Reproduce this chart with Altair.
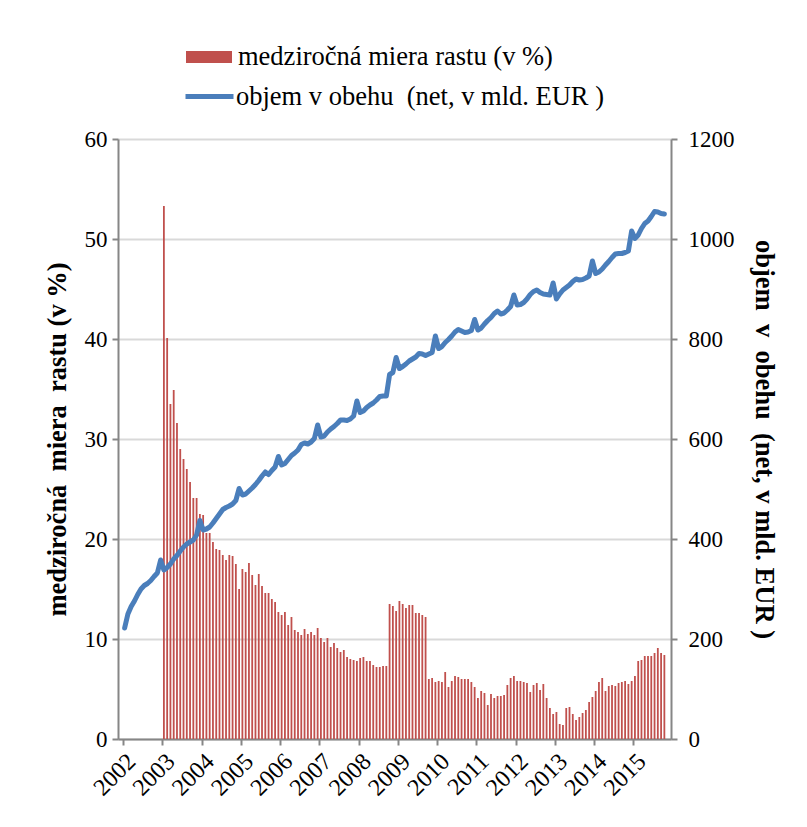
import altair as alt
import pandas as pd

BAR_LABEL = "medziročná miera rastu (v %)"
LINE_LABEL = "objem v obehu\u00a0 (net, v mld. EUR )"
LEFT_TITLE = "medziročná\u00a0 miera\u00a0 rastu (v %)"
RIGHT_TITLE = "objem\u00a0 v\u00a0 obehu\u00a0 (net, v mld. EUR )"

years = list(range(2002, 2016))

# year-on-year growth, monthly from Jan 2003 to Oct 2015 (%)
growth = [
    53.3, 40.1, 33.5, 34.9, 31.6, 29.0, 28.0, 27.0, 25.7, 24.1, 24.1, 22.5,
    22.4, 20.6, 20.6, 19.7, 19.0, 18.9, 18.4, 17.9, 18.4, 18.3, 17.5, 15.0,
    17.0, 16.7, 17.6, 16.4, 15.4, 16.5, 15.3, 14.6, 14.6, 14.0, 13.7, 12.7,
    12.4, 12.7, 11.4, 12.2, 10.9, 10.7, 10.4, 11.0, 10.5, 10.7, 10.4, 11.1,
    10.1, 9.7, 10.1, 9.2, 9.6, 9.1, 8.7, 8.9, 8.2, 8.0, 7.9, 7.8,
    8.1, 8.2, 7.8, 7.8, 7.4, 7.2, 7.2, 7.3, 7.3, 13.5, 13.3, 12.8,
    13.8, 13.5, 13.1, 13.4, 13.4, 12.6, 12.6, 12.4, 12.2, 6.0, 6.1, 5.7,
    5.8, 5.7, 6.7, 5.2, 5.8, 6.3, 6.2, 6.0, 6.0, 6.0, 5.7, 5.2,
    4.1, 4.8, 4.6, 3.4, 4.5, 4.1, 4.3, 4.3, 4.4, 5.4, 6.1, 6.3,
    5.8, 5.8, 5.7, 5.6, 4.7, 5.4, 5.6, 4.9, 5.5, 4.1, 3.1, 2.5,
    2.7, 1.5, 1.4, 3.1, 3.2, 2.5, 1.9, 2.2, 2.6, 2.9, 3.7, 4.2,
    4.8, 5.7, 6.1, 4.8, 5.3, 5.4, 5.3, 5.6, 5.7, 5.8, 5.5, 5.8,
    6.3, 7.8, 7.9, 8.3, 8.3, 8.3, 8.6, 9.1, 8.6, 8.4,
]

# banknotes in circulation, monthly from Jan 2002 to Oct 2015 (bn EUR)
volume = [
    222, 250, 265, 276, 289, 300, 307, 311, 317, 325, 332, 358,
    338, 343, 350, 360, 367, 376, 384, 390, 394, 398, 408, 437,
    418, 420, 424, 432, 441, 450, 459, 463, 466, 470, 477, 501,
    488, 490, 496, 502, 509, 517, 526, 534, 529, 537, 544, 565,
    548, 551, 559, 567, 572, 578, 589, 592, 590, 594, 601, 628,
    604, 606, 614, 620, 625, 631, 638, 638, 637, 640, 646, 676,
    653, 656, 663, 668, 672, 678, 685, 686, 686, 729, 733, 763,
    741, 745, 750, 756, 760, 764, 771, 770, 767, 770, 773, 806,
    781, 785, 793, 799, 806, 814, 819, 816, 813, 814, 817, 839,
    818, 822, 830, 837, 843, 851, 856, 850, 852, 858, 865, 888,
    868, 869, 873, 880, 889, 895, 898, 893, 890, 889, 888, 912,
    880, 890, 898, 903, 908, 915, 920, 918, 919, 922, 926, 956,
    931, 934, 940, 948, 955, 963, 970, 971, 971, 973, 976, 1016,
    1001, 1008, 1021, 1031, 1036, 1045, 1055, 1054, 1051, 1050,
]

n_months = len(volume)
bar_offset = 12  # bars start in Jan 2003

line_df = pd.DataFrame({
    "m": [i + 0.5 for i in range(n_months)],
    "vol": volume,
    "s": LINE_LABEL,
})
bar_df = pd.DataFrame({
    "m": [bar_offset + i + 0.5 for i in range(len(growth))],
    "g": growth,
    "s": BAR_LABEL,
})

FONT = "Liberation Serif"
AXIS_GRAY = "#868686"

xscale = alt.Scale(domain=[0, n_months], nice=False, zero=False)
xaxis = alt.Axis(
    values=[12 * (y - years[0]) for y in years],
    labelExpr="'' + (2002 + datum.value / 12)",
    title=None, grid=False, labelAngle=-45, labelAlign="right",
    labelBaseline="top", labelPadding=4, labelFontSize=24,
    labelFont=FONT, labelOverlap=False, labelBound=False,
)

bars = alt.Chart(bar_df).mark_bar(size=1.8).encode(
    x=alt.X("m:Q", scale=xscale, axis=xaxis),
    y=alt.Y("g:Q", scale=alt.Scale(domain=[0, 60], nice=False),
            axis=alt.Axis(values=list(range(0, 61, 10)), title=LEFT_TITLE,
                          orient="left", grid=True, gridColor="#d9d9d9",
                          gridWidth=2, labelPadding=5, titlePadding=13,
                          format="d")),
    fill=alt.Fill("s:N", scale=alt.Scale(domain=[BAR_LABEL], range=["#c0504d"]),
                  legend=alt.Legend(title=None, orient="none", legendX=68,
                                    legendY=-105, symbolType="M-1,-0.26L1,-0.26L1,0.26L-1,0.26Z",
                                    symbolSize=2116, symbolStrokeWidth=0,
                                    labelOffset=6)),
)

line = alt.Chart(line_df).mark_line(strokeWidth=5, strokeJoin="round",
                                    strokeCap="round").encode(
    x=alt.X("m:Q", scale=xscale, axis=xaxis),
    y=alt.Y("vol:Q", scale=alt.Scale(domain=[0, 1200], nice=False),
            axis=alt.Axis(values=list(range(0, 1201, 200)), title=RIGHT_TITLE,
                          orient="right", grid=False, labelPadding=11,
                          titlePadding=15, format="d")),
    stroke=alt.Stroke("s:N", scale=alt.Scale(domain=[LINE_LABEL], range=["#4a7ebb"]),
                      legend=alt.Legend(title=None, orient="none", legendX=65,
                                        legendY=-69, symbolType="stroke",
                                        symbolSize=2304, symbolStrokeWidth=5,
                                        labelOffset=0)),
)

chart = alt.layer(bars, line).resolve_scale(y="independent").properties(
    width=553, height=600,
    autosize=alt.AutoSizeParams(type="none"),
    padding={"left": 110, "top": 131, "right": 120, "bottom": 70},
).configure_view(stroke=None).configure_axis(
    labelFont=FONT, titleFont=FONT, labelFontSize=23, titleFontSize=26.5,
    titleFontWeight="bold", labelColor="black", titleColor="black",
    domainColor=AXIS_GRAY, domainWidth=2, tickColor=AXIS_GRAY, tickWidth=2,
    tickSize=6,
).configure_legend(
    labelFont=FONT, labelFontSize=26.5, labelColor="black", padding=0,
    labelLimit=0,
)

chart.save("out.html", embed_options={"renderer": "svg", "actions": False})
